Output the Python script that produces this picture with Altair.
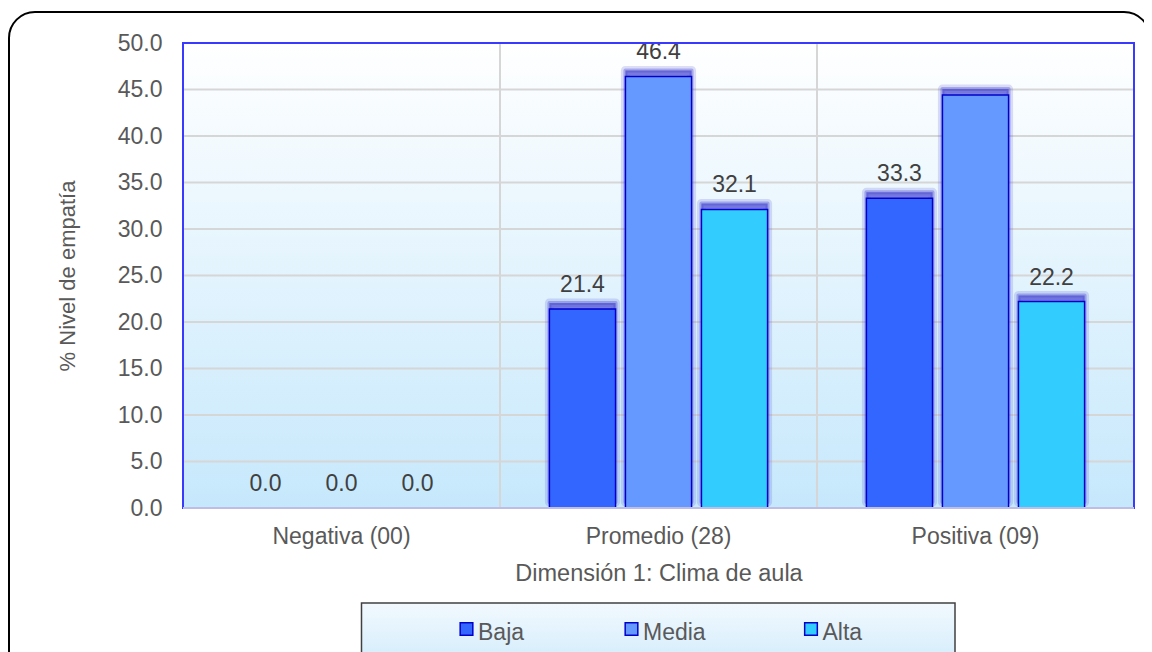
import altair as alt
import pandas as pd

# ---- data ----
categorias = ["Negativa (00)", "Promedio (28)", "Positiva (09)"]
series = ["Baja", "Media", "Alta"]
baja = [0.0, 21.4, 33.3]
media = [0.0, 46.4, 44.4]
alta = [0.0, 32.1, 22.2]
# data labels shown in the reference (the 44.4 bar carries no label)
mostrar_baja = [True, True, True]
mostrar_media = [True, True, False]
mostrar_alta = [True, True, True]
colores = ["#3366FF", "#6699FF", "#33CCFF"]
y_ticks = [0, 5, 10, 15, 20, 25, 30, 35, 40, 45, 50]
x_title = "Dimensión 1: Clima de aula"
y_title = "% Nivel de empatía"

# ---- layout ----
W, H = 951, 465
PAD_L, PAD_T, PAD_R, PAD_B = 175, 35, 10, 144
FONT = "Liberation Sans"
TXT = "#595959"

rows = []
for i, c in enumerate(categorias):
    for s, vals, show in zip(series, [baja, media, alta],
                             [mostrar_baja, mostrar_media, mostrar_alta]):
        rows.append({"cat": c, "serie": s, "valor": vals[i], "show": show[i]})
df = pd.DataFrame(rows)

x_axis = alt.Axis(title=x_title, grid=False, domain=False, ticks=False, tickSize=0,
                  labelFontSize=23, labelColor=TXT, labelPadding=17, labelAngle=0,
                  titleFontSize=23.5, titleColor=TXT, titleFontWeight="normal",
                  titleY=72, titleBaseline="alphabetic")
y_axis = alt.Axis(title=y_title, grid=False, domain=False, ticks=False, tickSize=0,
                  values=y_ticks, format=".1f", labelFontSize=23, labelColor=TXT,
                  labelPadding=21, titleFontSize=22, titleColor=TXT,
                  titleFontWeight="normal", titleAngle=270, titleX=-116, titleY=H / 2,
                  titleAlign="center", titleBaseline="middle")

x_scale = alt.Scale(domain=categorias, paddingInner=0, paddingOuter=0)
y_scale = alt.Scale(domain=[0, 50], nice=False, zero=True)

x_enc = alt.X("cat:N", sort=categorias, scale=x_scale, axis=x_axis)
xoff_enc = alt.XOffset("serie:N", sort=series,
                       scale=alt.Scale(domain=series, paddingInner=0.13, paddingOuter=0.65))
y_enc = alt.Y("valor:Q", scale=y_scale, axis=y_axis)

one = pd.DataFrame({"a": [0]})

bg = alt.Chart(one).mark_rect(
    fill=alt.LinearGradient(gradient="linear", x1=0, x2=0, y1=0, y2=1,
                            stops=[alt.GradientStop(offset=0, color="#FFFFFF"),
                                   alt.GradientStop(offset=1, color="#C6E8FC")])
).encode(x=alt.value(0), x2=alt.value(W), y=alt.value(0), y2=alt.value(H))

hgrid = alt.Chart(pd.DataFrame({"valor": y_ticks[1:]})).mark_rule(
    color="#D6D6D6", strokeWidth=2).encode(y=y_enc)

vgrid = alt.Chart(pd.DataFrame({"cat": categorias[1:]})).mark_rule(
    color="#D6D6D6", strokeWidth=2).encode(
    x=alt.X("cat:N", sort=categorias, scale=x_scale, axis=x_axis, bandPosition=0))

shadow_glow = alt.Chart(df).transform_filter("datum.valor > 0").mark_bar(
    fill="#4646D2", fillOpacity=0.25, xOffset=5, yOffset=-6,
    stroke="#4646D2", strokeWidth=9, strokeOpacity=0.18, strokeJoin="round"
).encode(x=x_enc, xOffset=xoff_enc, y=y_enc)

shadow = alt.Chart(df).transform_filter("datum.valor > 0").mark_bar(
    fill="#4646D2", fillOpacity=0.55, xOffset=5, yOffset=-6,
    stroke="#4646D2", strokeWidth=4, strokeOpacity=0.35, strokeJoin="round"
).encode(x=x_enc, xOffset=xoff_enc, y=y_enc)

bars = alt.Chart(df).mark_bar(stroke="#0000CC", strokeWidth=1.5).encode(
    x=x_enc, xOffset=xoff_enc, y=y_enc,
    color=alt.Color("serie:N", sort=series,
                    scale=alt.Scale(domain=series, range=colores), legend=None))

labels = alt.Chart(df).transform_filter("datum.show").mark_text(
    dy=-17, baseline="alphabetic", fontSize=23, color="#404040"
).encode(x=x_enc, xOffset=xoff_enc, y=y_enc,
         text=alt.Text("valor:Q", format=".1f"))

border = alt.Chart(one).mark_rect(fillOpacity=0, stroke="#3A3AFF", strokeWidth=2).encode(
    x=alt.value(0), x2=alt.value(W), y=alt.value(0), y2=alt.value(H))
bottom = alt.Chart(one).mark_rule(color="#BDBDE6", strokeWidth=2).encode(
    x=alt.value(0), x2=alt.value(W), y=alt.value(H))

# ---- custom legend ----
LEG_X1, LEG_X2, LEG_Y1, LEG_Y2 = 178.5, 772, 560, 640
leg_box = alt.Chart(one).mark_rect(
    fill=alt.LinearGradient(gradient="linear", x1=0, x2=0, y1=0, y2=1,
                            stops=[alt.GradientStop(offset=0, color="#F2F9FE"),
                                   alt.GradientStop(offset=1, color="#C9E8FB")]),
    stroke="#404040", strokeWidth=1.5
).encode(x=alt.value(LEG_X1), x2=alt.value(LEG_X2), y=alt.value(LEG_Y1), y2=alt.value(LEG_Y2))

leg_sq_x = [283.5, 448.5, 628]
leg_layers = []
for s, col, sx in zip(series, colores, leg_sq_x):
    sq = alt.Chart(one).mark_square(size=160, fill=col, stroke="#0000CC", strokeWidth=1.5,
                                    opacity=1).encode(x=alt.value(sx), y=alt.value(586))
    tx = alt.Chart(one).mark_text(align="left", baseline="alphabetic", fontSize=23,
                                  color=TXT, text=s).encode(x=alt.value(sx + 11.5),
                                                            y=alt.value(597))
    leg_layers += [sq, tx]

outer = alt.Chart(one).mark_rect(fillOpacity=0, stroke="#000000", strokeWidth=2,
                                 cornerRadius=26).encode(
    x=alt.value(-174), x2=alt.value(967), y=alt.value(-31), y2=alt.value(640))

chart = alt.layer(bg, hgrid, vgrid, shadow_glow, shadow, bars, labels, border, bottom,
                  leg_box, *leg_layers, outer).properties(
    width=W, height=H,
    autosize=alt.AutoSizeParams(type="none"),
    padding={"left": PAD_L, "top": PAD_T, "right": PAD_R, "bottom": PAD_B},
    background="white",
).configure(font=FONT).configure_view(strokeWidth=0)

chart.save("out.html", embed_options={"renderer": "svg", "actions": False})
